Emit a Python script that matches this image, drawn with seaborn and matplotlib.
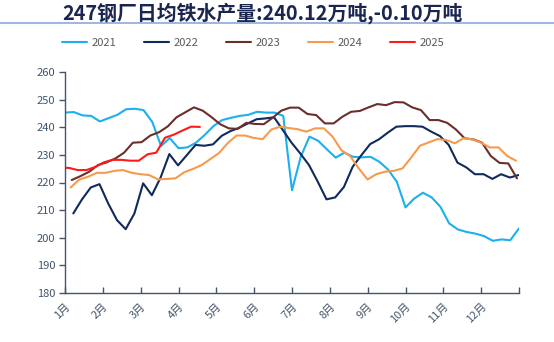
import numpy as np
import pandas as pd
import matplotlib
matplotlib.use("Agg")
import matplotlib.pyplot as plt
from matplotlib.lines import Line2D
import seaborn as sns

# ---- data (weekly values, 万吨) ----
years = ["2021", "2022", "2023", "2024", "2025"]
start_week = {"2021": 0.0, "2022": 0.95, "2023": 0.77, "2024": 0.65, "2025": -0.55}

v2021 = [245.3, 245.5, 244.3, 244.1, 242.1, 243.3, 244.5, 246.5, 246.7, 246.2,
         241.9, 233.2, 236.1, 232.4, 232.7, 234.4, 237.2, 240.4, 242.6, 243.4,
         244.1, 244.5, 245.6, 245.3, 245.3, 244.1, 217.2, 229.3, 236.6, 235.1,
         232.0, 229.0, 230.8, 229.3, 229.1, 229.3, 227.5, 224.7, 220.3, 211.0,
         214.2, 216.3, 214.6, 211.2, 205.2, 203.0, 202.1, 201.5, 200.6, 198.9,
         199.4, 199.1, 203.4]
v2022 = [208.8, 213.9, 218.2, 219.4, 212.4, 206.4, 203.1, 208.8, 219.7, 215.4,
         221.8, 230.3, 226.2, 229.9, 233.6, 233.3, 233.8, 236.9, 238.6, 239.8,
         241.4, 242.9, 243.2, 243.6, 239.0, 234.4, 230.5, 226.3, 220.3, 213.9,
         214.6, 218.4, 225.7, 229.9, 233.9, 235.6, 238.0, 240.2, 240.4, 240.4,
         240.2, 238.4, 236.8, 233.6, 227.2, 225.5, 223.0, 223.0, 221.3, 223.0,
         221.8, 222.7]
v2023 = [220.9, 222.3, 223.9, 226.3, 227.3, 228.7, 230.8, 234.4, 234.6, 237.0,
         238.2, 240.3, 243.6, 245.4, 247.2, 246.0, 243.7, 241.1, 239.6, 239.4,
         241.6, 241.2, 241.1, 243.4, 246.0, 247.1, 247.1, 244.8, 244.4, 241.4,
         241.4, 243.8, 245.6, 245.9, 247.2, 248.4, 248.0, 249.1, 249.0, 247.2,
         246.2, 242.6, 242.6, 241.6, 239.2, 236.0, 235.6, 234.4, 229.6, 227.1,
         226.9, 221.5]
v2024 = [218.2, 221.1, 222.1, 223.5, 223.5, 224.2, 224.5, 223.5, 223.0, 222.7,
         221.1, 221.3, 221.5, 223.7, 224.9, 226.3, 228.5, 230.7, 234.3, 237.0,
         237.0, 236.1, 235.7, 239.2, 240.2, 239.7, 239.3, 238.4, 239.6, 239.6,
         236.6, 231.7, 229.6, 225.1, 221.1, 223.0, 223.9, 224.2, 225.1, 229.0,
         233.3, 234.5, 235.7, 235.4, 234.2, 236.0, 235.6, 234.4, 232.7, 232.7,
         229.6, 227.9]
v2025 = [225.3, 225.3, 224.5, 224.5, 225.6, 227.3, 228.2, 228.2, 227.9, 227.9,
         230.2, 230.8, 236.2, 237.3, 238.8, 240.22, 240.12]
values = {"2021": v2021, "2022": v2022, "2023": v2023, "2024": v2024, "2025": v2025}

month_labels = ["1月", "2月", "3月", "4月", "5月", "6月", "7月", "8月", "9月",
                "10月", "11月", "12月", ""]
title = "247钢厂日均铁水产量:240.12万吨,-0.10万吨"

colors = {"2021": "#1cb0ec", "2022": "#102a5c", "2023": "#6b2e2b",
          "2024": "#f89a4c", "2025": "#ff1a1a"}

rows = []
for y in years:
    for i, v in enumerate(values[y]):
        rows.append({"week": start_week[y] + i, "value": v, "year": y})
df = pd.DataFrame(rows)

sns.set_theme(style="white")
plt.rcParams["font.family"] = ["Noto Sans CJK SC", "DejaVu Sans"]

axis_col = "#44546a"
fig = plt.figure(figsize=(5.54, 3.42), dpi=100)
ax = fig.add_axes([65 / 554, 1 - 293 / 342, (519 - 65) / 554, (293 - 72) / 342])

sns.lineplot(data=df, x="week", y="value", hue="year", palette=colors,
             hue_order=years, linewidth=1.5, ax=ax, legend=False, sort=False,
             estimator=None)

ax.set_xlim(0, 52)
ax.set_ylim(180, 260)
ax.set_yticks(np.arange(180, 261, 10))
ax.set_xticks([k * 52 / 12 for k in range(13)])
ax.set_xticklabels(month_labels, rotation=45, ha="right", va="top",
                   rotation_mode="anchor")
ax.set_xlabel("")
ax.set_ylabel("")
for s in ["top", "right"]:
    ax.spines[s].set_visible(False)
for s in ["left", "bottom"]:
    ax.spines[s].set_color(axis_col)
    ax.spines[s].set_linewidth(1.0)
ax.tick_params(axis="y", direction="out", length=4, width=1, color=axis_col,
               labelcolor=axis_col, labelsize=8, pad=3, left=True)
ax.tick_params(axis="x", direction="in", length=4, width=1, color=axis_col,
               labelcolor=axis_col, labelsize=8, pad=6, bottom=True)
ax.grid(False)

fig.text(262 / 554, 1 - 13 / 342, title, ha="center", va="center", fontsize=14.3,
         fontweight="bold", color="#1a2550")
fig.add_artist(Line2D([0, 1], [1 - 23 / 342, 1 - 23 / 342],
                      transform=fig.transFigure, color="#8eaadb", linewidth=1.2))

handles = [Line2D([0], [0], color=colors[y], linewidth=1.5) for y in years]
leg = fig.legend(handles, years, loc="center", bbox_to_anchor=(0.457, 1 - 43 / 342),
                 ncol=5, frameon=False, fontsize=8, handlelength=2.3,
                 handletextpad=0.4, columnspacing=2.45)
for t in leg.get_texts():
    t.set_color("#595959")

fig.savefig("out.png", dpi=100)
